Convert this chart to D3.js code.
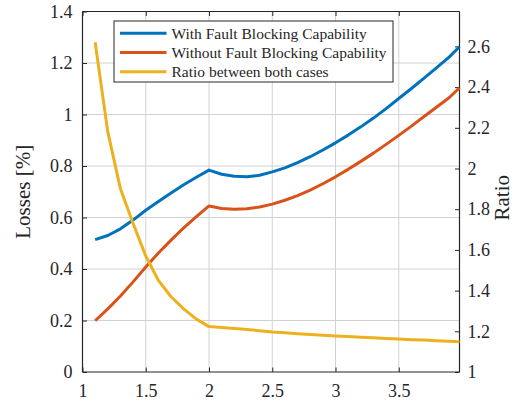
<!DOCTYPE html>
<html>
<head>
<meta charset="utf-8">
<script src="https://cdn.jsdelivr.net/npm/d3@7"></script>
<style>
  html, body { margin: 0; padding: 0; background: #fff; }
  svg { display: block; }
  svg text { font-family: "Liberation Serif", "Times New Roman", Times, serif; }
</style>
</head>
<body>
<svg id="chart" width="515" height="402"></svg>
<script>
// Sweep values (x axis)
const xValues = [1.1, 1.2, 1.3, 1.4, 1.5, 1.6, 1.7, 1.8, 1.9, 2.0,
                 2.1, 2.2, 2.3, 2.4, 2.5, 2.6, 2.7, 2.8, 2.9, 3.0,
                 3.1, 3.2, 3.3, 3.4, 3.5, 3.6, 3.7, 3.8, 3.9, 3.98];

// Losses [%] with fault blocking capability
const lossWith = [0.514, 0.530, 0.556, 0.590, 0.628, 0.662, 0.695, 0.727, 0.756, 0.784,
                  0.768, 0.760, 0.758, 0.764, 0.777, 0.793, 0.813, 0.836, 0.862, 0.890,
                  0.920, 0.952, 0.986, 1.023, 1.062, 1.101, 1.141, 1.182, 1.224, 1.263];

// Losses [%] without fault blocking capability
const lossWithout = [0.199, 0.245, 0.295, 0.350, 0.408, 0.462, 0.512, 0.560, 0.603, 0.645,
                     0.635, 0.632, 0.634, 0.641, 0.652, 0.667, 0.685, 0.706, 0.731, 0.758,
                     0.787, 0.818, 0.850, 0.884, 0.919, 0.955, 0.992, 1.029, 1.066, 1.104];

// Ratio between both cases (right axis)
const ratio = [2.62, 2.18, 1.90, 1.73, 1.57, 1.45, 1.37, 1.31, 1.26, 1.223,
               1.219, 1.214, 1.209, 1.203, 1.197, 1.193, 1.188, 1.184, 1.180, 1.177,
               1.174, 1.171, 1.168, 1.165, 1.162, 1.159, 1.157, 1.154, 1.151, 1.149];

const xTicks = [1, 1.5, 2, 2.5, 3, 3.5];
const yLeftTicks = [0, 0.2, 0.4, 0.6, 0.8, 1, 1.2, 1.4];
const yRightTicks = [1, 1.2, 1.4, 1.6, 1.8, 2, 2.2, 2.4, 2.6];

const seriesNames = ["With Fault Blocking Capability",
                     "Without Fault Blocking Capability",
                     "Ratio between both cases"];
const seriesColors = ["#0072BD", "#D95319", "#EDB120"];

const L = 82.5, R = 459.5, T = 11.5, B = 372;
const axisColor = "#262626";
const gridColor = "#d2d2d2";
const serif = '"Liberation Serif", "Times New Roman", Times, serif';

const x = d3.scaleLinear().domain([1, 3.98]).range([L, R]);
const yL = d3.scaleLinear().domain([0, 1.4]).range([B, T]);
const yR = d3.scaleLinear().domain([1, 2.7715]).range([B, T]);

const svg = d3.select("#chart");
const fmt = d => String(+d.toFixed(2));

// grid
const grid = svg.append("g");
grid.selectAll(".gx").data(xTicks.filter(d => d > 1)).join("line")
  .attr("x1", d => x(d)).attr("x2", d => x(d))
  .attr("y1", T).attr("y2", B)
  .attr("stroke", gridColor).attr("stroke-width", 1);
grid.selectAll(".gy").data(yLeftTicks.filter(d => d > 0 && d < 1.4)).join("line")
  .attr("x1", L).attr("x2", R)
  .attr("y1", d => yL(d)).attr("y2", d => yL(d))
  .attr("stroke", gridColor).attr("stroke-width", 1);

// axes with inward ticks
const tickLen = 4.5;
const axB = svg.append("g").attr("transform", `translate(0,${B})`)
  .call(d3.axisBottom(x).tickValues(xTicks).tickSize(-tickLen).tickPadding(12).tickFormat(fmt));
const axT = svg.append("g").attr("transform", `translate(0,${T})`)
  .call(d3.axisTop(x).tickValues(xTicks).tickSize(-tickLen).tickFormat(""));
const axL = svg.append("g").attr("transform", `translate(${L},0)`)
  .call(d3.axisLeft(yL).tickValues(yLeftTicks).tickSize(-tickLen).tickPadding(10).tickFormat(fmt));
const axR = svg.append("g").attr("transform", `translate(${R},0)`)
  .call(d3.axisRight(yR).tickValues(yRightTicks).tickSize(-tickLen).tickPadding(8).tickFormat(fmt));

[axB, axT, axL, axR].forEach(a => {
  a.attr("font-family", serif).attr("font-size", 18);
  a.select(".domain").attr("stroke", axisColor).attr("stroke-width", 1.2);
  a.selectAll(".tick line").attr("stroke", axisColor).attr("stroke-width", 1);
  a.selectAll(".tick text").attr("fill", axisColor)
    .attr("font-family", serif).style("font-family", serif).style("font-size", "18px");
});
// close the box corners
axB.select(".domain").attr("d", `M${L},0H${R}`);
axT.select(".domain").attr("d", `M${L},0H${R}`);
axL.select(".domain").attr("d", `M0,${T}V${B}`);
axR.select(".domain").attr("d", `M0,${T}V${B}`);

// series
const pts = xValues.map((xv, i) => ({ x: xv, a: lossWith[i], b: lossWithout[i], r: ratio[i] }));
const plot = svg.append("g");
const lineA = d3.line().x(d => x(d.x)).y(d => yL(d.a));
const lineB = d3.line().x(d => x(d.x)).y(d => yL(d.b));
const lineR = d3.line().x(d => x(d.x)).y(d => yR(d.r));
plot.append("path").attr("d", lineA(pts)).attr("fill", "none")
  .attr("stroke", seriesColors[0]).attr("stroke-width", 3).attr("stroke-linejoin", "round");
plot.append("path").attr("d", lineB(pts)).attr("fill", "none")
  .attr("stroke", seriesColors[1]).attr("stroke-width", 3).attr("stroke-linejoin", "round");
plot.append("path").attr("d", lineR(pts)).attr("fill", "none")
  .attr("stroke", seriesColors[2]).attr("stroke-width", 3).attr("stroke-linejoin", "round");

// axis titles
svg.append("text")
  .attr("transform", `translate(30,${(T + B) / 2}) rotate(-90)`)
  .attr("text-anchor", "middle")
  .attr("fill", axisColor)
  .style("font-family", serif)
  .style("font-size", "21px")
  .text("Losses [%]");
svg.append("text")
  .attr("transform", `translate(509,${(T + B) / 2 + 6}) rotate(-90)`)
  .attr("text-anchor", "middle")
  .attr("fill", axisColor)
  .style("font-family", serif)
  .style("font-size", "21px")
  .text("Ratio");

// legend
const lg = svg.append("g");
lg.append("rect").attr("x", 114).attr("y", 21).attr("width", 279).attr("height", 61)
  .attr("fill", "#fff").attr("stroke", axisColor).attr("stroke-width", 1);
seriesNames.forEach((name, i) => {
  const cy = 33.3 + i * 19.2;
  lg.append("line").attr("x1", 120).attr("x2", 166.5).attr("y1", cy).attr("y2", cy)
    .attr("stroke", seriesColors[i]).attr("stroke-width", 3);
  lg.append("text").attr("x", 171.5).attr("y", cy).attr("dy", "0.35em")
    .attr("fill", axisColor)
    .style("font-family", serif)
    .style("font-size", "15.5px").text(name);
});
</script>
</body>
</html>
